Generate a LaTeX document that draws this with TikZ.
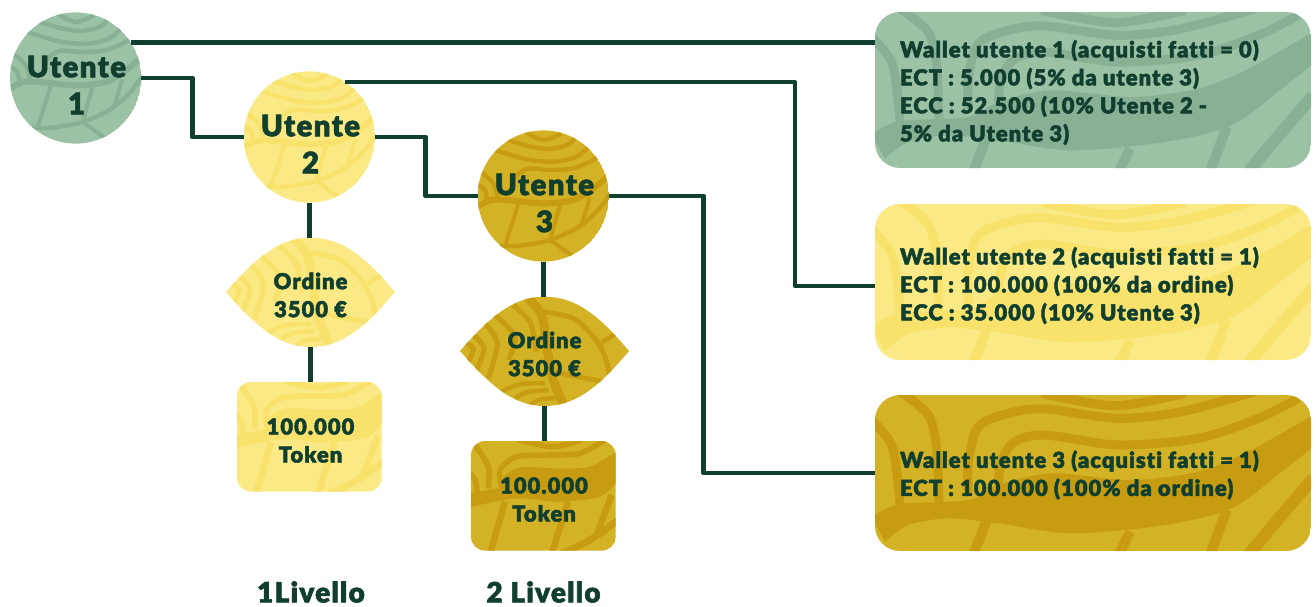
\documentclass[tikz,border=0pt]{standalone}
\usepackage{fontspec}
\setmainfont{Lato Black}[FakeBold=2,LetterSpace=4.5,Ligatures=NoCommon]
\usetikzlibrary{calc}
\definecolor{dk}{HTML}{103F30}
\definecolor{gf}{HTML}{9CC2A6}
\definecolor{gs}{HTML}{87B094}
\definecolor{yf}{HTML}{FBE985}
\definecolor{ys}{HTML}{F8E26C}
\definecolor{of}{HTML}{D4B226}
\definecolor{os}{HTML}{C79C10}
\tikzset{
  lnk/.style={draw=dk,line width=4.8pt,line join=round},
  pt/.style={draw=patc,line width=#1,line cap=butt,line join=round},
  pt/.default=4.4pt,
  holder/.style={inner sep=0pt,outer sep=0pt,align=center,text=dk},
  ucirc/.style={holder,circle,minimum size=131pt},
  lens/.style={holder,rectangle,minimum width=169pt,minimum height=109pt},
  tok/.style={holder,rectangle,minimum width=145pt,minimum height=110pt},
  wbox/.style={holder,rectangle,minimum width=436pt,minimum height=156pt},
  wtext/.style={holder,anchor=west,align=left,text=dk,font=\fontsize{22}{28}\selectfont},
  ctext/.style={holder,font=\fontsize{22}{28}\selectfont},
  utext/.style={holder,font=\fontsize{29.5}{37}\selectfont},
  lev/.style={holder,font=\fontsize{28}{30}\selectfont},
}
\newcommand{\circbg}[4]{%
\colorlet{patc}{#4}%
\begin{scope}
\clip (#1,#2) circle[radius=65.6];
\fill[#3] (#1,#2) circle[radius=65.6];
\begin{scope}[shift={({#1-73.33},{#2-71})},scale=1/3]
\draw[pt=6pt] plot[smooth] coordinates {(15,250)(60,226)(110,225)(220,235)(310,225)(370,190)(425,145)};
\draw[pt=4.4pt] plot[smooth] coordinates {(90,362)(150,362)(240,345)(320,310)(380,260)(425,200)};
\draw[pt=4pt] (147,232) -- (105,362);
\draw[pt=4pt] (272,235) -- (240,345);
\draw[pt=4pt] (360,218) -- (335,298);
\draw[pt=4pt] (245,348) -- (310,395);
\draw[pt] plot[smooth] coordinates {(165,20)(220,45)(275,25)};
\draw[pt] plot[smooth] coordinates {(105,42)(170,62)(235,72)(295,58)(325,25)};
\draw[pt] plot[smooth] coordinates {(75,75)(170,103)(250,110)(320,95)(365,55)};
\draw[pt] plot[smooth] coordinates {(125,165)(170,132)(240,135)(310,130)(370,105)(400,80)};
\draw[pt] plot[smooth] coordinates {(25,135)(70,175)(85,228)};
\draw[pt] plot[smooth] coordinates {(15,175)(45,195)(52,235)};
\end{scope}
\end{scope}}
\newcommand{\lensbg}[4]{%
\colorlet{patc}{#4}%
\begin{scope}[shift={({440+#1},{280+#2})},scale=1/3]
\clip (60,213) .. controls (150,110) and (220,50) .. (313,50) .. controls (410,50) and (480,110) .. (567,213) .. controls (480,316) and (410,378) .. (313,378) .. controls (220,378) and (150,316) .. (60,213) -- cycle;
\fill[#3] (0,0) rectangle (660,450);
\draw[pt=9pt] plot[smooth] coordinates {(255,45)(305,105)(320,200)(340,300)(375,385)};
\draw[pt=5pt] plot[smooth] coordinates {(310,95)(400,115)(460,170)(495,230)(510,290)};
\draw[pt=5pt] (475,195) -- (535,155);
\draw[pt=5pt] (325,272) -- (490,305);
\draw[pt=5pt] plot[smooth] coordinates {(70,185)(100,205)(85,245)};
\draw[pt=5pt] plot[smooth] coordinates {(95,160)(132,205)(105,280)};
\draw[pt=5pt] plot[smooth] coordinates {(135,130)(172,190)(145,295)};
\draw[pt=5pt] plot[smooth] coordinates {(165,105)(225,170)(205,240)};
\draw[pt=5pt] plot[smooth] coordinates {(220,75)(272,130)(288,215)};
\draw[pt=4.4pt] plot[smooth] coordinates {(185,335)(240,312)(315,310)};
\draw[pt=4.4pt] plot[smooth] coordinates {(225,355)(260,337)(325,330)};
\draw[pt=4.4pt] plot[smooth] coordinates {(270,375)(300,358)(345,355)};
\end{scope}}
\newcommand{\tokbg}[4]{%
\colorlet{patc}{#4}%
\begin{scope}[shift={({440+#1},{280+#2})},scale=1/3]
\clip[rounded corners=14pt] (93,483) rectangle (527,812);
\fill[#3] (93,483) rectangle (527,812);
\fill[patc] plot[smooth] coordinates {(85,640)(180,622)(190,590)(240,562)(350,565)(450,560)(535,510)} -- plot[smooth] coordinates {(535,600)(480,650)(350,665)(230,655)(85,682)} -- cycle;
\draw[pt=5.5pt] plot[smooth] coordinates {(185,620)(180,570)(230,530)(330,525)(420,520)(495,480)};
\draw[pt=5.5pt] plot[smooth] coordinates {(235,480)(340,500)(425,480)};
\draw[pt=5.5pt] plot[smooth] coordinates {(105,495)(145,560)(145,625)};
\draw[pt=5.5pt] plot[smooth] coordinates {(85,575)(105,600)(112,640)};
\draw[pt=6.5pt] (195,665) -- (150,820);
\draw[pt=6.5pt] (385,665) -- (335,820);
\draw[pt=6.5pt] (515,645) -- (470,765);
\draw[pt=7pt] plot[smooth] coordinates {(535,720)(450,780)(365,820)};
\end{scope}}
\newcommand{\walletbg}[3]{%
\colorlet{patc}{#3}%
\begin{scope}[shift={(865,{#1-10})},scale=1/3]
\clip[rounded corners=25pt] (30,30) rectangle (1338,498);
\fill[#2] (30,30) rectangle (1338,498);
\fill[patc] plot[smooth] coordinates {(20,398)(100,358)(310,345)(400,300)(560,265)(800,285)(1000,260)(1150,200)(1345,90)} -- plot[smooth] coordinates {(1345,185)(1250,260)(1100,370)(900,420)(620,445)(400,415)(250,400)(130,420)(60,470)} -- cycle;
\draw[pt=9pt] plot[smooth] coordinates {(310,330)(310,230)(340,125)(430,85)(540,72)(760,100)(950,80)(1170,20)};
\draw[pt=9pt] plot[smooth] coordinates {(400,300)(410,225)(450,170)(540,150)(760,180)(1000,160)(1180,100)(1300,40)};
\draw[pt=9pt] plot[smooth] coordinates {(530,25)(750,62)(960,25)};
\draw[pt=9pt] plot[smooth] coordinates {(105,20)(190,90)(215,190)(222,350)};
\draw[pt=9pt] plot[smooth] coordinates {(20,105)(80,180)(100,300)(105,365)};
\draw[pt=10pt] (365,405) -- (325,510);
\draw[pt=10pt] (795,440) -- (760,510);
\draw[pt=10pt] (1085,375) -- (1035,510);
\draw[pt=12pt] plot[smooth] coordinates {(1345,280)(1250,390)(1150,510)};
\end{scope}}
\begin{document}
\begin{tikzpicture}[x=1pt,y=-1pt]
\useasboundingbox (0,0) rectangle (1316,606);
\circbg{75.7}{78}{gf}{gs}
\circbg{309.3}{137}{yf}{ys}
\circbg{543.3}{196}{of}{os}
\lensbg{-234}{-59}{yf}{ys}
\lensbg{0}{0}{of}{os}
\tokbg{-234}{-59}{yf}{ys}
\tokbg{0}{0}{of}{os}
\walletbg{12}{gf}{gs}
\walletbg{204}{yf}{ys}
\walletbg{395}{of}{os}

\node[ucirc] (u1) at (75.7,78) {};
\node[ucirc] (u2) at (309.3,137) {};
\node[ucirc] (u3) at (543.3,196) {};
\node[lens] (l1) at (310.5,292.5) {};
\node[lens] (l2) at (544.5,351.5) {};
\node[tok] (t1) at (310,437) {};
\node[tok] (t2) at (543.5,496) {};
\node[wbox] (w1) at (1093,90) {};
\node[wbox] (w2) at (1093,282) {};
\node[wbox] (w3) at (1093,473) {};
\node[utext] (u1t) at (76.5,85) {Utente\\1};
\node[utext] (u2t) at (310.5,144) {Utente\\2};
\node[utext] (u3t) at (544.5,203) {Utente\\3};
\node[ctext] (l1t) at (310.5,295) {Ordine\\3500 €};
\node[ctext] (l2t) at (544.5,354) {Ordine\\3500 €};
\node[ctext] (t1t) at (310.5,440.5) {100.000\\Token};
\node[ctext] (t2t) at (544,499.5) {100.000\\Token};
\node[wtext] (x1) at (900,92.5) {Wallet utente 1 (acquisti fatti = 0)\\ECT : 5.000 (5\% da utente 3)\\ECC : 52.500 (10\% Utente 2 -\\5\% da Utente 3)};
\node[wtext] (x2) at (900,285.5) {Wallet utente 2 (acquisti fatti = 1)\\ECT : 100.000 (100\% da ordine)\\ECC : 35.000 (10\% Utente 3)};
\node[wtext] (x3) at (900,475) {Wallet utente 3 (acquisti fatti = 1)\\ECT : 100.000 (100\% da ordine)};
\node[lev] (v1) at (311,592) {1Livello};
\node[lev] (v2) at (543.5,592) {2 Livello};

\coordinate (a1) at (u1.33);
\coordinate (a2) at (u2.57);
\coordinate (w2in) at ($(w2.west)+(0,4)$);
\draw[lnk] (a1) -- (a1 -| w1.west);
\draw[lnk] (u1.east) -- ++(51,0) |- (u2.west);
\draw[lnk] (a2) -| ($(w2in)+(-80,0)$) -- (w2in);
\draw[lnk] (u2.east) -- ++(51,0) |- (u3.west);
\draw[lnk] (u3.east) -- ++(95,0) |- (w3.west);
\draw[lnk] (u2.south) -- (l1.north -| u2.south);
\draw[lnk] (l1.south) -- (t1.north -| l1.south);
\draw[lnk] (u3.south) -- (l2.north -| u3.south);
\draw[lnk] (l2.south) -- (t2.north -| l2.south);
\end{tikzpicture}
\end{document}
